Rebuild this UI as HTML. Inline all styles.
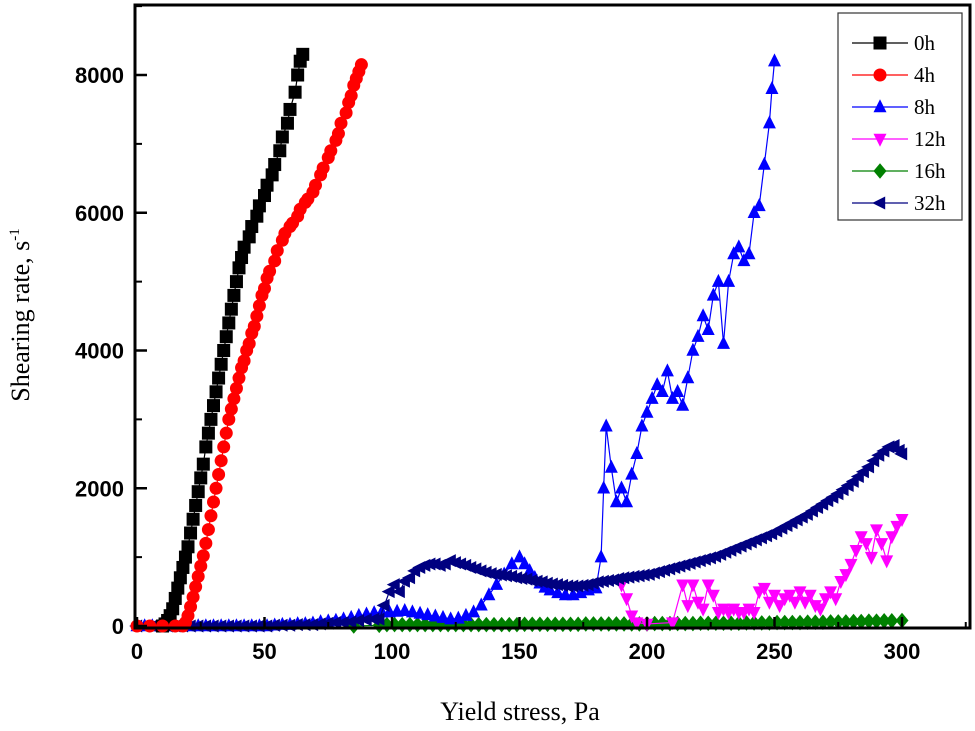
<!DOCTYPE html>
<html><head><meta charset="utf-8"><style>
html,body{margin:0;padding:0;background:#fff;width:975px;height:731px;overflow:hidden}
svg{display:block}
.tk{font-family:"Liberation Sans",Arial,sans-serif;font-weight:bold;font-size:22px;fill:#000}
.ti{font-family:"Liberation Serif","Times New Roman",serif;font-size:26px;fill:#000}
.lg{font-family:"Liberation Serif","Times New Roman",serif;font-size:21px;fill:#000}
</style></head><body>
<svg id="chart" width="975" height="731">
<g id="marks"></g>
<g id="axes"></g>
<g id="legend"></g>
</svg>
<script>
const xTicks=[0,50,100,150,200,250,300];
const yTicks=[0,2000,4000,6000,8000];
const seriesNames=["0h","4h","8h","12h","16h","32h"];
const s0h=[[10,0],[11,30],[12,80],[13,150],[14,250],[15,400],[16,550],[17,700],[18,850],[19,1000],[20,1150],[21,1350],[22,1550],[23,1750],[24,1950],[25,2150],[26,2350],[27,2600],[28,2800],[29,3000],[30,3200],[31,3400],[32,3600],[33,3800],[34,4000],[35,4200],[36,4400],[37,4600],[38,4800],[39,5000],[40,5200],[41,5350],[42,5500],[44,5650],[45,5800],[47,5950],[48,6100],[50,6250],[51,6400],[53,6550],[54,6700],[56,6900],[57,7100],[59,7300],[60,7500],[62,7750],[63,8000],[64,8200],[65,8300]];
const s4h=[[0,0],[5,0],[10,0],[15,0],[18,0],[19,50],[20,150],[21,280],[22,420],[23,570],[24,720],[25,870],[26,1020],[27,1200],[28,1400],[29,1600],[30,1800],[31,2000],[32,2200],[33,2400],[34,2600],[35,2800],[36,3000],[37,3150],[38,3300],[39,3450],[40,3600],[41,3750],[42,3850],[43,4000],[44,4100],[45,4250],[46,4350],[47,4500],[48,4650],[49,4800],[50,4900],[51,5050],[52,5150],[54,5300],[55,5450],[57,5600],[58,5700],[60,5800],[61,5850],[63,5950],[64,6050],[66,6150],[67,6200],[69,6300],[70,6400],[72,6550],[73,6650],[75,6800],[76,6900],[78,7050],[79,7150],[80,7300],[82,7450],[83,7600],[84,7700],[85,7850],[86,7950],[87,8050],[88,8150]];
const s8h=[[0,0],[3,0],[6,0],[9,0],[12,0],[15,0],[18,0],[21,0],[24,0],[27,0],[30,0],[33,0],[36,0],[39,0],[42,0],[45,0],[48,0],[51,0],[54,10],[57,20],[60,20],[63,30],[66,30],[69,40],[72,60],[75,70],[78,80],[81,100],[84,120],[87,150],[90,170],[93,190],[96,200],[99,200],[102,210],[105,220],[108,200],[111,180],[114,160],[117,140],[120,120],[123,100],[126,110],[129,150],[132,200],[135,300],[138,450],[141,600],[144,750],[147,900],[150,1000],[152,900],[154,800],[156,700],[158,620],[160,560],[162,520],[165,480],[168,450],[171,450],[174,480],[177,520],[180,550],[182,1000],[183,2000],[184,2900],[186,2300],[188,1800],[190,2000],[192,1800],[194,2200],[196,2500],[198,2900],[200,3100],[202,3300],[204,3500],[206,3400],[208,3700],[210,3300],[212,3400],[214,3200],[216,3600],[218,4000],[220,4200],[222,4500],[224,4300],[226,4800],[228,5000],[230,4100],[232,5000],[234,5400],[236,5500],[238,5300],[240,5400],[242,6000],[244,6100],[246,6700],[248,7300],[249,7800],[250,8200]];
const s12h=[[190,600],[192,400],[194,150],[196,50],[200,30],[210,50],[214,600],[216,300],[218,600],[220,350],[222,250],[224,600],[226,450],[228,200],[230,250],[232,200],[234,250],[236,200],[238,200],[240,250],[242,200],[244,500],[246,550],[248,350],[250,450],[252,300],[254,400],[256,450],[258,350],[260,500],[262,350],[264,450],[266,300],[268,250],[270,400],[272,500],[274,400],[276,650],[278,750],[280,900],[282,1100],[284,1300],[286,1200],[288,1000],[290,1400],[292,1200],[294,950],[296,1300],[298,1450],[300,1550]];
const s16h=[[85,0],[95,10],[98,20],[101,20],[104,20],[107,20],[110,20],[113,20],[116,20],[119,20],[122,20],[125,20],[128,20],[131,20],[134,20],[137,20],[140,20],[143,20],[146,20],[149,20],[152,25],[155,25],[158,25],[161,25],[164,25],[167,25],[170,25],[173,25],[176,30],[179,30],[182,30],[185,30],[188,30],[191,30],[194,30],[197,30],[200,30],[203,35],[206,35],[209,35],[212,35],[215,35],[218,35],[221,40],[224,40],[227,40],[230,40],[233,40],[236,40],[239,45],[242,45],[245,45],[248,45],[251,50],[254,50],[257,50],[260,50],[263,55],[266,55],[269,55],[272,60],[275,60],[278,60],[281,65],[284,65],[287,70],[290,70],[293,75],[296,75],[300,80]];
const s32h=[[0,0],[3,0],[6,0],[9,0],[12,0],[15,0],[18,0],[21,0],[24,0],[27,0],[30,0],[33,0],[36,0],[39,0],[42,0],[45,0],[48,0],[51,0],[54,10],[57,10],[60,10],[63,20],[66,20],[69,20],[72,30],[75,40],[78,50],[81,50],[84,60],[87,80],[90,90],[93,100],[95,100],[97,300],[99,500],[101,600],[103,500],[105,650],[107,700],[109,800],[111,850],[113,880],[115,900],[117,900],[119,880],[121,900],[123,950],[125,920],[127,900],[129,880],[131,850],[133,830],[135,800],[137,780],[139,760],[141,750],[143,740],[145,730],[147,720],[149,700],[151,690],[153,680],[155,660],[157,650],[159,640],[161,620],[163,610],[165,600],[167,590],[169,580],[171,580],[173,580],[175,590],[177,600],[179,620],[181,640],[183,650],[185,660],[187,670],[189,690],[191,700],[193,710],[195,720],[197,730],[199,740],[201,750],[203,770],[205,790],[207,810],[209,830],[211,850],[213,870],[215,890],[217,910],[219,930],[221,950],[223,970],[225,990],[227,1010],[229,1040],[231,1070],[233,1100],[235,1130],[237,1160],[239,1190],[241,1220],[243,1250],[245,1280],[247,1310],[249,1340],[251,1380],[253,1420],[255,1460],[257,1500],[259,1540],[261,1580],[263,1620],[265,1670],[267,1720],[269,1770],[271,1820],[273,1870],[275,1920],[277,1980],[279,2040],[281,2100],[283,2170],[285,2240],[287,2310],[289,2400],[291,2480],[293,2540],[295,2600],[297,2620],[299,2550],[300,2500]];
const NS="http://www.w3.org/2000/svg";
const X0=137,XS=2.55,Y0=626,YS=551/8000;
function xp(v){return X0+v*XS;}
function yp(v){return Y0-v*YS;}
function mk(tag,attrs,parent){const e=document.createElementNS(NS,tag);for(const k in attrs)e.setAttribute(k,attrs[k]);parent.appendChild(e);return e;}
const colors=["#000000","#ff0000","#0000ff","#ff00ff","#008000","#000080"];
const shapes=["square","circle","up","down","diamond","left"];
function marker(g,shape,x,y,c,r){
  let e;
  if(shape==="square"){e=mk("rect",{x:x-r,y:y-r,width:2*r,height:2*r,fill:c},g);}
  else if(shape==="circle"){e=mk("circle",{cx:x,cy:y,r:r,fill:c},g);}
  else{let p;
    if(shape==="up")p=[[x,y-r*1.2],[x+r,y+r*0.8],[x-r,y+r*0.8]];
    else if(shape==="down")p=[[x,y+r*1.2],[x+r,y-r*0.8],[x-r,y-r*0.8]];
    else if(shape==="diamond")p=[[x,y-r*1.2],[x+r,y],[x,y+r*1.2],[x-r,y]];
    else p=[[x-r*1.2,y],[x+r*0.8,y-r],[x+r*0.8,y+r]];
    e=mk("polygon",{points:p.map(q=>q.join(",")).join(" "),fill:c},g);}
  return e;
}
const marks=document.getElementById("marks");
const allSeries=[s0h,s4h,s8h,s12h,s16h,s32h];
const order=[4,2,3,5,0,1];
order.forEach(i=>{
  const data=allSeries[i];
  const g=mk("g",{},marks);
  
  
  const pl=mk("polyline",{points:data.map(d=>xp(d[0])+","+yp(d[1])).join(" "),fill:"none",stroke:colors[i],"stroke-width":1.2},g);
  
  
  data.forEach(d=>{
    const m=marker(g,shapes[i],xp(d[0]),yp(d[1]),colors[i],6.5);
    
    
  });
});
const axes=document.getElementById("axes");
const frame=mk("rect",{x:135,y:5,width:835,height:623,fill:"none",stroke:"#000","stroke-width":3},axes);


xTicks.forEach(v=>{
  const t=mk("line",{x1:xp(v),x2:xp(v),y1:628,y2:617,stroke:"#000","stroke-width":2.5},axes);
  
  
  const m=mk("line",{x1:xp(v+25),x2:xp(v+25),y1:628,y2:622,stroke:"#000","stroke-width":2},axes);
  
  
  const l=mk("text",{x:xp(v),y:659,"text-anchor":"middle",class:"tk"},axes);l.textContent=v;
  
  
});
yTicks.forEach(v=>{
  const t=mk("line",{x1:135,x2:147,y1:yp(v),y2:yp(v),stroke:"#000","stroke-width":2.5},axes);
  
  
  const m=mk("line",{x1:135,x2:142,y1:yp(v+1000),y2:yp(v+1000),stroke:"#000","stroke-width":2},axes);
  
  
  const l=mk("text",{x:124,y:yp(v)+8,"text-anchor":"end",class:"tk"},axes);l.textContent=v;
  
  
});
const xt=mk("text",{x:520,y:720,"text-anchor":"middle",class:"ti"},axes);xt.textContent="Yield stress, Pa";


const yt=mk("text",{x:0,y:0,"text-anchor":"middle",class:"ti",transform:"translate(29,315) rotate(-90)"},axes);
yt.innerHTML='Shearing rate, s<tspan dy="-10" font-size="15">-1</tspan>';


const lg=document.getElementById("legend");
const box=mk("rect",{x:838,y:13,width:124,height:207,fill:"#fff",stroke:"#333","stroke-width":1.2},lg);


seriesNames.forEach((n,i)=>{
  const y=43+i*32;
  const g=mk("g",{},lg);
  
  
  mk("line",{x1:852,x2:908,y1:y,y2:y,stroke:colors[i],"stroke-width":1.2},g);
  marker(g,shapes[i],880,y,colors[i],6.5);
  const t=mk("text",{x:914,y:y+7,class:"lg"},g);t.textContent=n;
});
</script>
</body></html>
